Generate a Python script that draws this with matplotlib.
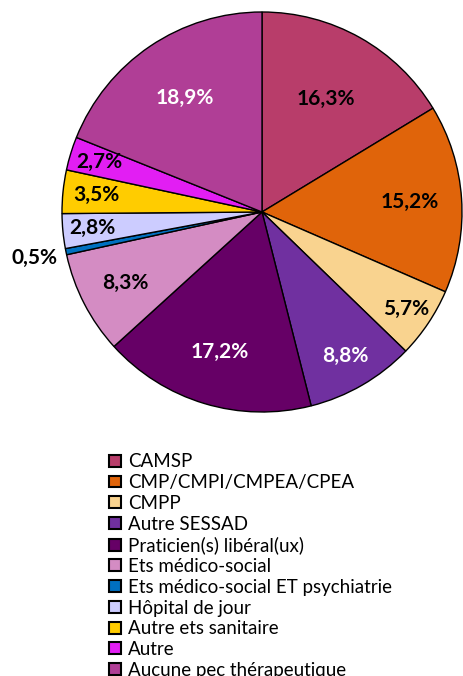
import numpy as np
import matplotlib.pyplot as plt

# données
categories = ['CAMSP', 'CMP/CMPI/CMPEA/CPEA', 'CMPP', 'Autre SESSAD',
              'Praticien(s) libéral(ux)', 'Ets médico-social',
              'Ets médico-social ET psychiatrie', 'Hôpital de jour',
              'Autre ets sanitaire', 'Autre', 'Aucune pec thérapeutique']
valeurs = [16.3, 15.2, 5.7, 8.8, 17.2, 8.3, 0.5, 2.8, 3.5, 2.7, 18.9]
etiquettes = ['16,3%', '15,2%', '5,7%', '8,8%', '17,2%', '8,3%', '0,5%',
              '2,8%', '3,5%', '2,7%', '18,9%']

couleurs = ['#B83D6A', '#E0640A', '#F9D38F', '#7030A0', '#660066', '#D48CC3',
            '#0070C0', '#CCCCFF', '#FFCC00', '#E21EF3', '#B03E96']
couleurs_txt = ['black', 'black', 'black', 'white', 'white', 'black',
                'black', 'black', 'black', 'black', 'white']
distances = [0.65, 0.74, 0.87, 0.83, 0.73, 0.77, 1.16, 0.85, 0.83, 0.85, 0.69]

plt.rcParams['font.family'] = ['Lato', 'DejaVu Sans']

fig = plt.figure(figsize=(4.64, 6.76), dpi=100)
ax = fig.add_axes([62 / 464, 264 / 676, 400 / 464, 400 / 676])

# camembert
parts, _ = ax.pie(valeurs, colors=couleurs, startangle=90, counterclock=False,
                  wedgeprops={'edgecolor': 'black', 'linewidth': 1.0})
ax.set_xlim(-1, 1)
ax.set_ylim(-1, 1)
ax.set_aspect('equal')

# étiquettes de pourcentage
for w, lab, d, c in zip(parts, etiquettes, distances, couleurs_txt):
    ang = np.deg2rad((w.theta1 + w.theta2) / 2)
    ax.text(d * np.cos(ang), d * np.sin(ang), lab, ha='center', va='center',
            fontsize=15, fontweight='bold', color=c, clip_on=False)

# légende
leg = fig.legend(parts, categories, loc='upper left',
                 bbox_to_anchor=(100 / 464, 1 - 444 / 676), frameon=False,
                 fontsize=13.5, handlelength=0.6, handleheight=0.6,
                 handletextpad=0.4, labelspacing=0.2, borderpad=0)
for h in leg.legend_handles:
    h.set_linewidth(1.5)

fig.savefig('out.png', dpi=100)
